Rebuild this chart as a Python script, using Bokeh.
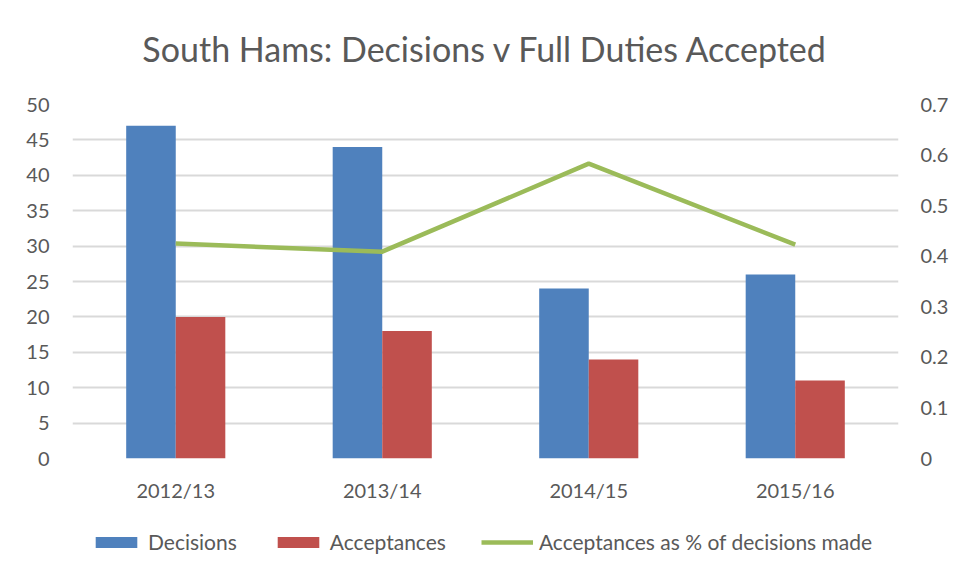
from bokeh.plotting import figure
from bokeh.layouts import column
from bokeh.models import (Range1d, LinearAxis, FactorRange, Legend, LegendItem,
                          FixedTicker, ColumnDataSource, Label)
from bokeh.transform import dodge
from bokeh.embed import file_html
from bokeh.resources import INLINE

title_text = "South Hams: Decisions v Full Duties Accepted"
categories = ["2012/13", "2013/14", "2014/15", "2015/16"]
decisions = [47, 44, 24, 26]
acceptances = [20, 18, 14, 11]
acceptance_pct = [0.425, 0.409, 0.583, 0.423]
left_ticks = [0, 5, 10, 15, 20, 25, 30, 35, 40, 45, 50]
right_ticks = [0, 0.1, 0.2, 0.3, 0.4, 0.5, 0.6, 0.7]
series_names = ["Decisions", "Acceptances", "Acceptances as % of decisions made"]

FONT = "Lato"
TXT = "#595959"
BLUE, RED, GREEN = "#4F81BD", "#C0504D", "#9BBB59"

src = ColumnDataSource(dict(cat=categories, dec=decisions, acc=acceptances, pct=acceptance_pct))

# title strip
tf = figure(width=955, height=90, x_range=Range1d(0, 1), y_range=Range1d(0, 1),
            output_backend="svg", toolbar_location=None,
            x_axis_location=None, y_axis_location=None,
            min_border_left=72, min_border_right=57, min_border_top=0, min_border_bottom=0)
tf.outline_line_color = None
tf.grid.visible = False
tf.add_layout(Label(x=0.5, y=0.47, text=title_text, text_align="center", text_baseline="middle",
                    text_font=FONT, text_font_size="34px", text_color=TXT))

p = figure(width=955, height=420, x_range=FactorRange(factors=categories),
           y_range=Range1d(0, 50), output_backend="svg", toolbar_location=None,
           min_border_left=72, min_border_right=57, min_border_top=14, min_border_bottom=52)
p.extra_y_ranges = {"pct": Range1d(0, 0.7)}

p.outline_line_color = None
p.xgrid.grid_line_color = None
p.ygrid.grid_line_color = "#d9d9d9"
p.ygrid.grid_line_width = 2
p.ygrid.ticker = FixedTicker(ticks=left_ticks)

p.vbar(x=dodge("cat", -0.12, range=p.x_range), top="dec", width=0.24, source=src,
       fill_color=BLUE, line_color=None)
p.vbar(x=dodge("cat", 0.12, range=p.x_range), top="acc", width=0.24, source=src,
       fill_color=RED, line_color=None)
p.line(x="cat", y="pct", source=src, y_range_name="pct",
       line_color=GREEN, line_width=4.5, line_join="round")

right = LinearAxis(y_range_name="pct", ticker=FixedTicker(ticks=right_ticks))
right.major_label_overrides = {0: "0"}
p.add_layout(right, "right")

for ax in [p.yaxis[0], right]:
    ax.axis_line_color = None
    ax.major_tick_line_color = None
    ax.minor_tick_line_color = None
    ax.major_label_text_font = FONT
    ax.major_label_text_font_size = "20px"
    ax.major_label_text_color = TXT
p.yaxis[0].ticker = FixedTicker(ticks=left_ticks)
p.yaxis[0].major_label_standoff = 17
right.major_label_standoff = 16

xa = p.xaxis[0]
xa.axis_line_color = None
xa.major_tick_line_color = None
xa.minor_tick_line_color = None
xa.major_label_text_font = FONT
xa.major_label_text_font_size = "20px"
xa.major_label_text_color = TXT
xa.major_label_standoff = 13

# legend strip below the chart (series drawn out of view, only their legend glyphs show)
lg = figure(width=955, height=68, x_range=FactorRange(factors=categories),
            y_range=Range1d(1000, 1001), output_backend="svg", toolbar_location=None,
            x_axis_location=None, y_axis_location=None,
            min_border_left=72, min_border_right=57, min_border_top=0, min_border_bottom=0)
lg.outline_line_color = None
lg.grid.visible = False
l_dec = lg.vbar(x="cat", top="dec", width=0.24, source=src, fill_color=BLUE, line_color=None)
l_acc = lg.vbar(x="cat", top="acc", width=0.24, source=src, fill_color=RED, line_color=None)
l_pct = lg.line(x="cat", y="pct", source=src, line_color=GREEN, line_width=4.5)

legend = Legend(items=[LegendItem(label=series_names[0], renderers=[l_dec]),
                       LegendItem(label=series_names[1], renderers=[l_acc]),
                       LegendItem(label=series_names[2], renderers=[l_pct])],
                location=(18, 24), orientation="horizontal")
legend.border_line_color = None
legend.background_fill_alpha = 0
legend.padding = 0
legend.margin = 0
legend.spacing = 35
legend.label_standoff = 6
legend.glyph_width = 52
legend.glyph_height = 14
legend.label_height = 24
legend.label_text_font = FONT
legend.label_text_font_size = "21px"
legend.label_text_color = TXT
lg.add_layout(legend, "center")

layout = column(tf, p, lg)
open("out.html", "w").write(file_html(layout, INLINE))
